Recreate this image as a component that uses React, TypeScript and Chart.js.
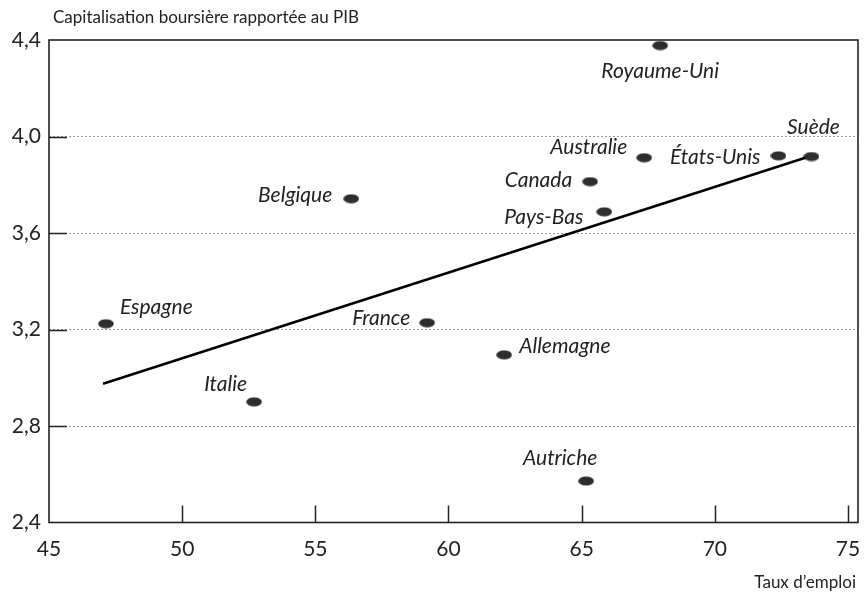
import React, { useEffect, useRef } from "react";
import { Chart, registerables } from "chart.js";

Chart.register(...registerables);

const countries = ["Royaume-Uni", "Suède", "États-Unis", "Australie", "Canada", "Pays-Bas", "Belgique", "Espagne", "France", "Allemagne", "Italie", "Autriche"];
const employmentRate = [67.95, 73.63, 72.39, 67.35, 65.32, 65.85, 56.35, 47.14, 59.2, 62.09, 52.7, 65.17];
const marketCap = [4.377, 3.917, 3.92, 3.912, 3.813, 3.688, 3.742, 3.224, 3.228, 3.095, 2.9, 2.572];
const trendX = [47.03, 73.4];
const trendY = [2.975, 3.912];
const xTickValues = [45, 50, 55, 60, 65, 70, 75];
const yTickValues = [2.4, 2.8, 3.2, 3.6, 4.0, 4.4];
const yTitle = "Capitalisation boursière rapportée au PIB";
const xTitle = "Taux d’emploi";

// label placement (pixels relative to the point)
const labelPlacement: Record<string, [number, number, CanvasTextAlign]> = {
  "Royaume-Uni": [0, 26, "center"],
  "Suède": [2, -29, "center"],
  "États-Unis": [-18, 1, "right"],
  "Australie": [-17, -10, "right"],
  "Canada": [-18, -1, "right"],
  "Pays-Bas": [-21, 5, "right"],
  "Belgique": [-19, -4, "right"],
  "Espagne": [14, -16, "left"],
  "France": [-17, -5, "right"],
  "Allemagne": [15, -9, "left"],
  "Italie": [-7, -18, "right"],
  "Autriche": [-26, -23, "center"],
};

const FONT = "Lato, 'Open Sans', sans-serif";
const INK = "#222";

function makeEllipse(): HTMLCanvasElement {
  const c = document.createElement("canvas");
  c.width = 16;
  c.height = 10;
  const g = c.getContext("2d")!;
  g.fillStyle = "#2e2e2e";
  g.beginPath();
  g.ellipse(8, 5, 7.8, 4.6, 0, 0, Math.PI * 2);
  g.fill();
  return c;
}

const framePlugin = {
  id: "frame",
  afterDraw(chart: any) {
    const { ctx, chartArea: a, scales } = chart;
    const xs = scales.x;
    const ys = scales.y;
    ctx.save();
    ctx.strokeStyle = INK;
    ctx.lineWidth = 1.6;
    ctx.strokeRect(a.left, a.top, a.right - a.left, a.bottom - a.top);
    // inward ticks
    ctx.lineWidth = 1.5;
    ctx.beginPath();
    xTickValues.forEach((v) => {
      if (v === xTickValues[0]) return;
      const px = Math.round(xs.getPixelForValue(v)) + 0.5;
      ctx.moveTo(px, a.bottom);
      ctx.lineTo(px, a.bottom - 17);
    });
    yTickValues.forEach((v) => {
      if (v === yTickValues[0] || v === yTickValues[yTickValues.length - 1]) return;
      const py = Math.round(ys.getPixelForValue(v)) + 0.5;
      ctx.moveTo(a.left, py);
      ctx.lineTo(a.left + 18, py);
    });
    ctx.stroke();
    // point labels
    ctx.fillStyle = INK;
    ctx.font = `italic 21px ${FONT}`;
    ctx.textBaseline = "middle";
    countries.forEach((name, i) => {
      const p = labelPlacement[name] || [10, 0, "left"];
      const px = xs.getPixelForValue(employmentRate[i]);
      const py = ys.getPixelForValue(marketCap[i]);
      ctx.textAlign = p[2];
      ctx.fillText(name, px + p[0], py + p[1]);
    });
    // axis titles
    ctx.font = `17px ${FONT}`;
    ctx.textAlign = "left";
    ctx.fillText(yTitle, 53, 18);
    ctx.textAlign = "right";
    ctx.fillText(xTitle, 856, 583);
    ctx.restore();
  },
};

export default function App() {
  const ref = useRef<HTMLCanvasElement | null>(null);
  useEffect(() => {
    document.body.style.margin = "0";
    const marker = makeEllipse();
    const chart = new Chart(ref.current!, {
      type: "scatter",
      data: {
        datasets: [
          {
            type: "line",
            label: "Tendance",
            data: trendX.map((x, i) => ({ x, y: trendY[i] })),
            borderColor: "#000",
            borderWidth: 2.5,
            pointRadius: 0,
            fill: false,
          },
          {
            label: "Pays",
            data: countries.map((_, i) => ({ x: employmentRate[i], y: marketCap[i] })),
            pointStyle: marker as any,
            pointRadius: 8,
            borderWidth: 0,
            backgroundColor: "#2e2e2e",
          },
        ],
      },
      options: {
        animation: false,
        responsive: false,
        maintainAspectRatio: false,
        layout: { padding: { top: 40, right: 10, left: 0, bottom: 0 } },
        plugins: { legend: { display: false }, tooltip: { enabled: false } },
        scales: {
          x: {
            type: "linear",
            min: 45,
            max: 75.376,
            border: { display: false },
            grid: { display: false, drawTicks: false },
            afterBuildTicks: (s: any) => {
              s.ticks = xTickValues.map((v) => ({ value: v }));
            },
            afterFit: (s: any) => {
              s.height = 73.5;
              s.paddingRight = 0;
              s.paddingLeft = 0;
            },
            ticks: {
              padding: 14,
              color: INK,
              font: { family: FONT, size: 21 },
              maxRotation: 0,
              callback: (v: any) => String(v),
            },
          },
          y: {
            type: "linear",
            min: 2.4,
            max: 4.4,
            border: { display: false, dash: [2, 2] },
            grid: {
              drawTicks: false,
              color: (c: any) => {
                const v = c.tick ? c.tick.value : null;
                return v !== null && v > 2.5 && v < 4.3 ? "#9a9a9a" : "rgba(0,0,0,0)";
              },
              lineWidth: 1,
            },
            afterBuildTicks: (s: any) => {
              s.ticks = yTickValues.map((v) => ({ value: v }));
            },
            afterFit: (s: any) => {
              s.width = 49;
              s.paddingTop = 0;
              s.paddingBottom = 0;
            },
            ticks: {
              padding: 8,
              color: INK,
              font: { family: FONT, size: 21 },
              callback: (v: any) => Number(v).toFixed(1).replace(".", ","),
            },
          },
        },
      },
      plugins: [framePlugin],
    });
    return () => chart.destroy();
  }, []);
  return (
    <div style={{ position: "absolute", left: 0, top: 0, width: 868, height: 596 }}>
      <canvas ref={ref} width={868} height={596} style={{ display: "block" }} />
    </div>
  );
}
